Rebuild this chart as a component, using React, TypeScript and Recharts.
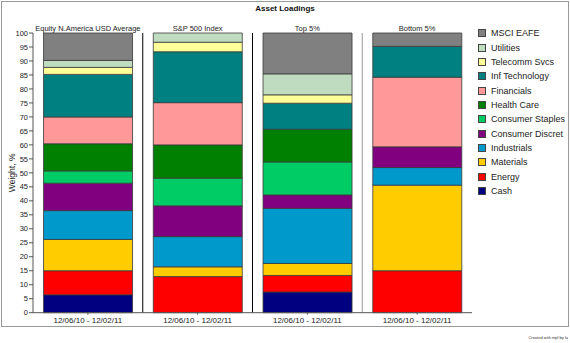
import { BarChart, Bar, XAxis, YAxis, ReferenceLine, Legend } from 'recharts'

const PANELS = ['Equity N.America USD Average', 'S&P 500 Index', 'Top 5%', 'Bottom 5%']
const PERIODS = ['12/06/10 - 12/02/11', '12/06/10 - 12/02/11', '12/06/10 - 12/02/11', '12/06/10 - 12/02/11']
const Y_TICKS = [0, 5, 10, 15, 20, 25, 30, 35, 40, 45, 50, 55, 60, 65, 70, 75, 80, 85, 90, 95, 100]

// weights per panel, bottom of the stack first
const CASH = [6.4, 0, 7.4, 0]
const ENERGY = [8.6, 12.9, 5.9, 15.0]
const MATERIALS = [11.2, 3.5, 4.3, 30.6]
const INDUSTRIALS = [10.3, 10.8, 19.7, 6.3]
const CONS_DISCRET = [9.8, 11.0, 4.8, 7.4]
const CONS_STAPLES = [4.4, 9.9, 11.8, 0]
const HEALTH_CARE = [9.7, 11.9, 11.7, 0]
const FINANCIALS = [9.6, 15.1, 0, 24.9]
const INF_TECH = [15.2, 18.2, 9.3, 11.0]
const TELECOMM = [2.5, 3.4, 3.0, 0]
const UTILITIES = [2.5, 3.3, 7.5, 0]
const MSCI_EAFE = [9.8, 0, 14.6, 4.8]

const SECTORS = [
  { key: 'cash', label: 'Cash', color: '#000080', values: CASH },
  { key: 'energy', label: 'Energy', color: '#ff0000', values: ENERGY },
  { key: 'materials', label: 'Materials', color: '#ffcc00', values: MATERIALS },
  { key: 'industrials', label: 'Industrials', color: '#0099cc', values: INDUSTRIALS },
  { key: 'discret', label: 'Consumer Discret', color: '#800080', values: CONS_DISCRET },
  { key: 'staples', label: 'Consumer Staples', color: '#00cc66', values: CONS_STAPLES },
  { key: 'health', label: 'Health Care', color: '#008000', values: HEALTH_CARE },
  { key: 'financials', label: 'Financials', color: '#ff9999', values: FINANCIALS },
  { key: 'inftech', label: 'Inf Technology', color: '#008080', values: INF_TECH },
  { key: 'telecomm', label: 'Telecomm Svcs', color: '#ffff99', values: TELECOMM },
  { key: 'utilities', label: 'Utilities', color: '#c0dcc0', values: UTILITIES },
  { key: 'eafe', label: 'MSCI EAFE', color: '#808080', values: MSCI_EAFE },
]

const SEP_COLORS = ['#000000', '#000000', '#999999']

const FONT = '"Liberation Sans", Arial, sans-serif'

const data = PANELS.map((name, i) => {
  const row: any = { name }
  SECTORS.forEach(s => { row[s.key] = s.values[i] })
  return row
})

function LegendBox() {
  return (
    <div style={{ fontFamily: FONT, fontSize: 9, color: '#222' }}>
      {[...SECTORS].reverse().map(s => (
        <div key={s.key} style={{ display: 'flex', alignItems: 'center', height: 14.36 }}>
          <span style={{ width: 6, height: 6, background: s.color, border: '1px solid #444', marginRight: 5 }} />
          <span>{s.label}</span>
        </div>
      ))}
    </div>
  )
}

export default function App() {
  return (
    <div style={{ position: 'absolute', left: 0, top: 0, width: 570, height: 343, background: '#fff', fontFamily: FONT }}>
      <div style={{ position: 'absolute', left: 1, top: 1, width: 566, height: 324, border: '1px solid #9a9a9a' }} />
      <div style={{ position: 'absolute', left: 0, width: 570, top: 4, textAlign: 'center', fontSize: 8, fontWeight: 'bold', color: '#111' }}>
        Asset Loadings
      </div>
      <div style={{ position: 'absolute', right: 2, top: 335, fontSize: 4, color: '#333' }}>Created with mpl by lu</div>
      <BarChart width={570} height={343} data={data} barCategoryGap="9.6%"
        margin={{ top: 0, right: 98, bottom: 0, left: 0 }} style={{ position: 'absolute', left: 0, top: 0 }}>
        <XAxis dataKey="name" height={30.3} tickLine={{ stroke: '#555' }} tickSize={2} tickMargin={3}
          axisLine={{ stroke: '#555' }} interval={0}
          tick={{ fontSize: 8, fill: '#222', fontFamily: FONT }}
          tickFormatter={(_v: any, i: number) => PERIODS[i]} />
        <XAxis xAxisId="top" dataKey="name" orientation="top" height={33} axisLine={false} tickLine={false}
          tickSize={0} tickMargin={2} interval={0}
          tick={{ fontSize: 7.5, fill: '#222', fontFamily: FONT }} />
        <YAxis width={33} domain={[0, 100]} ticks={Y_TICKS} interval={0} tickSize={4} tickMargin={1}
          axisLine={{ stroke: '#555' }} tickLine={{ stroke: '#555' }}
          tick={{ fontSize: 7.5, fill: '#222', fontFamily: FONT }}
          label={({ viewBox }: any) => {
            const x = viewBox.x + 12
            const y = viewBox.y + viewBox.height / 2
            return (
              <text x={x} y={y} transform={`rotate(-90 ${x} ${y})`} textAnchor="middle" dominantBaseline="central"
                fontSize={8.5} fill="#222" fontFamily={FONT}>Weight, %</text>
            )
          }} />
        {SECTORS.map(s => (
          <Bar key={s.key} dataKey={s.key} stackId="w" fill={s.color} stroke="#3a3a3a" strokeWidth={0.8}
            isAnimationActive={false} />
        ))}
        {PANELS.slice(0, 3).map((p, i) => (
          <ReferenceLine key={p} x={p} position="end" stroke={SEP_COLORS[i]} strokeWidth={1} />
        ))}
        <Legend layout="vertical" align="center" verticalAlign="middle" content={() => <LegendBox />}
          wrapperStyle={{ left: 478, top: 26, width: 90, height: 180 }} />
      </BarChart>
    </div>
  )
}
